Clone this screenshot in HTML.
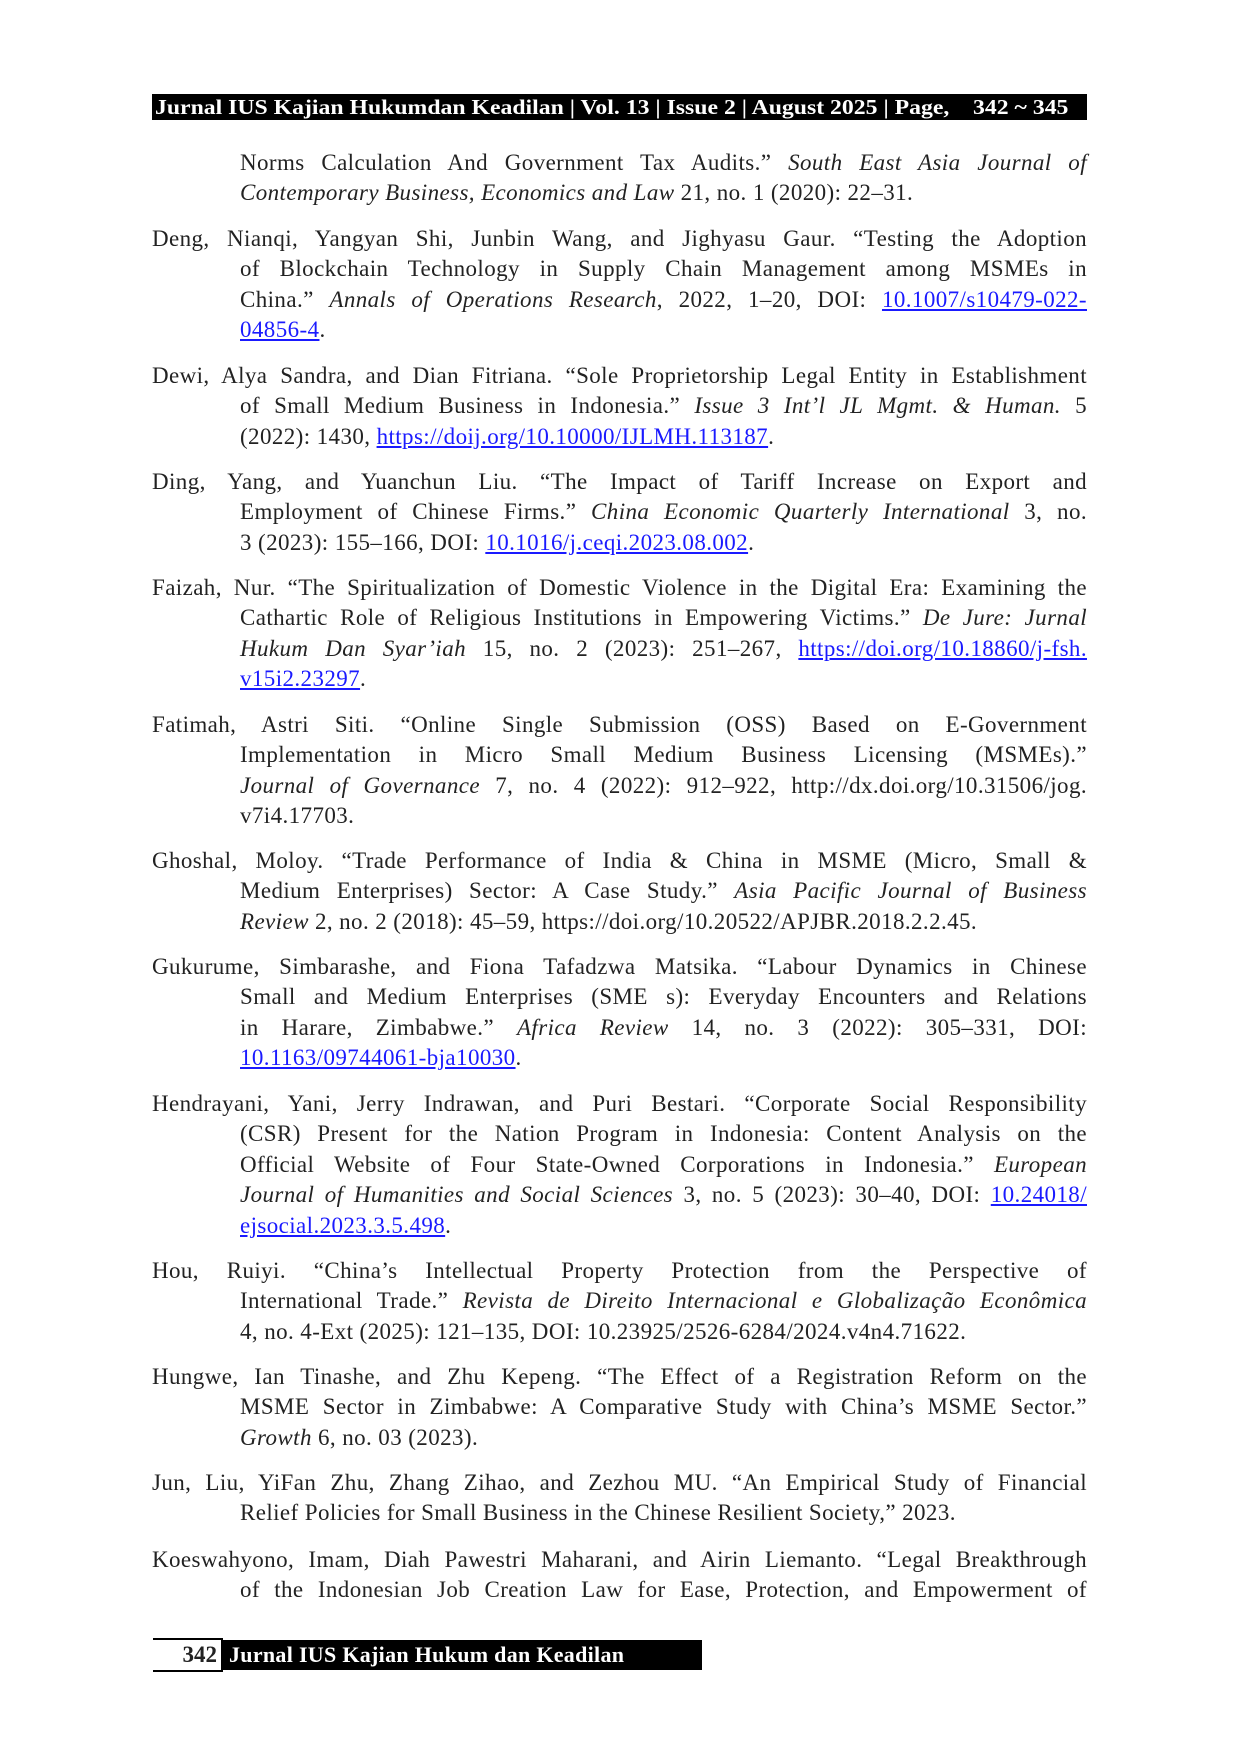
<!DOCTYPE html>
<html><head><meta charset="utf-8"><style>
body{margin:0;background:#fff}
.page{position:relative;width:1240px;height:1754px;overflow:hidden;font-family:"Liberation Serif",serif;color:#222}
.hdr{position:absolute;left:152px;top:94px;width:935px;height:26px;background:#000;color:#fff;font-weight:bold;font-size:21px;line-height:26px;white-space:nowrap;padding-left:3px;box-sizing:border-box;overflow:hidden}
.hdr span{display:inline-block;transform:scaleX(1.13);transform-origin:left}
.e{position:absolute;left:152px;width:935px;font-size:23px;line-height:30.4px;letter-spacing:0.4px}
.e div{text-align:justify;text-align-last:justify;padding-left:88px;height:30.4px}
.e div:first-child{padding-left:0}
.e div.x{text-align-last:left}
.e.c div{padding-left:88px}
.e a{color:#1a1aff;text-decoration:underline}
.ft{position:absolute;left:221px;top:1640px;width:481px;height:30px;background:#000;color:#fff;font-weight:bold;font-size:22px;line-height:30px;padding-left:8px;box-sizing:border-box;letter-spacing:0.3px}
.pn{position:absolute;left:153px;top:1638px;width:70px;height:34px;border-top:2px solid #000;border-bottom:2px solid #000;box-sizing:border-box;font-weight:bold;font-size:23px;line-height:30px;text-align:right;padding-right:6px}
</style></head><body><div class="page">
<div class="hdr"><span>Jurnal IUS Kajian Hukumdan Keadilan | Vol. 13 | Issue 2 | August 2025 | Page,&nbsp;&nbsp;&nbsp;&nbsp;342 ~ 345</span></div>

<div class="e c" style="top:148px">
<div>Norms Calculation And Government Tax Audits.” <i>South East Asia Journal of</i></div>
<div class="x"><i>Contemporary Business, Economics and Law</i> 21, no. 1 (2020): 22–31.</div></div>

<div class="e" style="top:224px">
<div>Deng, Nianqi, Yangyan Shi, Junbin Wang, and Jighyasu Gaur. “Testing the Adoption</div>
<div>of Blockchain Technology in Supply Chain Management among MSMEs in</div>
<div>China.” <i>Annals of Operations Research</i>, 2022, 1–20, DOI: <a>10.1007/s10479-022-</a></div>
<div class="x"><a>04856-4</a>.</div></div>

<div class="e" style="top:361px">
<div>Dewi, Alya Sandra, and Dian Fitriana. “Sole Proprietorship Legal Entity in Establishment</div>
<div>of Small Medium Business in Indonesia.” <i>Issue 3 Int’l JL Mgmt. &amp; Human.</i> 5</div>
<div class="x">(2022): 1430, <a>https://doij.org/10.10000/IJLMH.113187</a>.</div></div>

<div class="e" style="top:467px">
<div>Ding, Yang, and Yuanchun Liu. “The Impact of Tariff Increase on Export and</div>
<div>Employment of Chinese Firms.” <i>China Economic Quarterly International</i> 3, no.</div>
<div class="x">3 (2023): 155–166, DOI: <a>10.1016/j.ceqi.2023.08.002</a>.</div></div>

<div class="e" style="top:573px">
<div>Faizah, Nur. “The Spiritualization of Domestic Violence in the Digital Era: Examining the</div>
<div>Cathartic Role of Religious Institutions in Empowering Victims.” <i>De Jure: Jurnal</i></div>
<div><i>Hukum Dan Syar’iah</i> 15, no. 2 (2023): 251–267, <a>https://doi.org/10.18860/j-fsh.</a></div>
<div class="x"><a>v15i2.23297</a>.</div></div>

<div class="e" style="top:710px">
<div>Fatimah, Astri Siti. “Online Single Submission (OSS) Based on E-Government</div>
<div>Implementation in Micro Small Medium Business Licensing (MSMEs).”</div>
<div><i>Journal of Governance</i> 7, no. 4 (2022): 912–922, http://dx.doi.org/10.31506/jog.</div>
<div class="x">v7i4.17703.</div></div>

<div class="e" style="top:846px">
<div>Ghoshal, Moloy. “Trade Performance of India &amp; China in MSME (Micro, Small &amp;</div>
<div>Medium Enterprises) Sector: A Case Study.” <i>Asia Pacific Journal of Business</i></div>
<div class="x"><i>Review</i> 2, no. 2 (2018): 45–59, https://doi.org/10.20522/APJBR.2018.2.2.45.</div></div>

<div class="e" style="top:952px">
<div>Gukurume, Simbarashe, and Fiona Tafadzwa Matsika. “Labour Dynamics in Chinese</div>
<div>Small and Medium Enterprises (SME s): Everyday Encounters and Relations</div>
<div>in Harare, Zimbabwe.” <i>Africa Review</i> 14, no. 3 (2022): 305–331, DOI:</div>
<div class="x"><a>10.1163/09744061-bja10030</a>.</div></div>

<div class="e" style="top:1089px">
<div>Hendrayani, Yani, Jerry Indrawan, and Puri Bestari. “Corporate Social Responsibility</div>
<div>(CSR) Present for the Nation Program in Indonesia: Content Analysis on the</div>
<div>Official Website of Four State-Owned Corporations in Indonesia.” <i>European</i></div>
<div><i>Journal of Humanities and Social Sciences</i> 3, no. 5 (2023): 30–40, DOI: <a>10.24018/</a></div>
<div class="x"><a>ejsocial.2023.3.5.498</a>.</div></div>

<div class="e" style="top:1256px">
<div>Hou, Ruiyi. “China’s Intellectual Property Protection from the Perspective of</div>
<div>International Trade.” <i>Revista de Direito Internacional e Globalização Econômica</i></div>
<div class="x">4, no. 4-Ext (2025): 121–135, DOI: 10.23925/2526-6284/2024.v4n4.71622.</div></div>

<div class="e" style="top:1362px">
<div>Hungwe, Ian Tinashe, and Zhu Kepeng. “The Effect of a Registration Reform on the</div>
<div>MSME Sector in Zimbabwe: A Comparative Study with China’s MSME Sector.”</div>
<div class="x"><i>Growth</i> 6, no. 03 (2023).</div></div>

<div class="e" style="top:1468px">
<div>Jun, Liu, YiFan Zhu, Zhang Zihao, and Zezhou MU. “An Empirical Study of Financial</div>
<div class="x">Relief Policies for Small Business in the Chinese Resilient Society,” 2023.</div></div>

<div class="e" style="top:1545px">
<div>Koeswahyono, Imam, Diah Pawestri Maharani, and Airin Liemanto. “Legal Breakthrough</div>
<div>of the Indonesian Job Creation Law for Ease, Protection, and Empowerment of</div></div>

<div class="pn">342</div>
<div class="ft">Jurnal IUS Kajian Hukum dan Keadilan</div>
</div></body></html>
